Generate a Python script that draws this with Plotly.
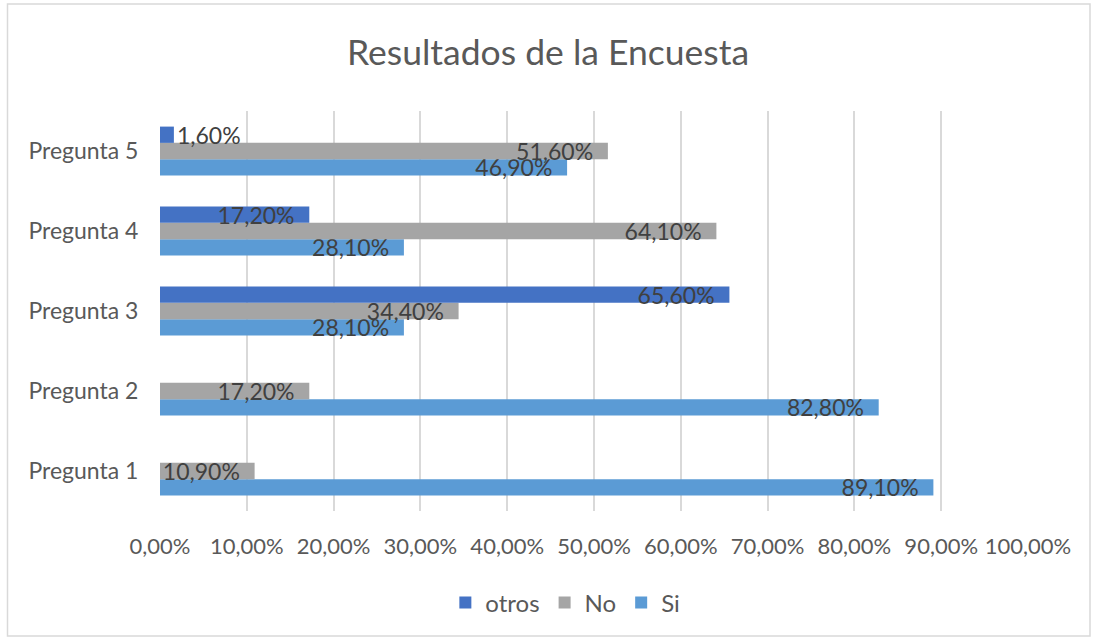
import plotly.graph_objects as go

categories = ["Pregunta 1", "Pregunta 2", "Pregunta 3", "Pregunta 4", "Pregunta 5"]
si = [0.891, 0.828, 0.281, 0.281, 0.469]
no = [0.109, 0.172, 0.344, 0.641, 0.516]
otros = [None, None, 0.656, 0.172, 0.016]

series = [("Si", si, "#5B9BD5"), ("No", no, "#A5A5A5"), ("otros", otros, "#4472C4")]

FONT = "Lato"
PAD = "\u00a0\u00a0"
LBL = 23

fig = go.Figure()
for name, vals, color in series:
    texts = []
    pos = []
    for v in vals:
        if v is None:
            texts.append("")
            pos.append("none")
        elif v < 0.05:
            texts.append(f"{v*100:.2f}%".replace(".", ","))
            pos.append("outside")
        else:
            texts.append(f"{v*100:.2f}%".replace(".", ",") + PAD)
            pos.append("inside")
    fig.add_trace(go.Bar(
        name=name, y=categories, x=vals, orientation="h",
        marker=dict(color=color, line=dict(width=0)),
        text=texts, textposition=pos, insidetextanchor="end",
        textangle=0, cliponaxis=False,
        textfont=dict(family=FONT, size=LBL, color="#404040"),
        insidetextfont=dict(family=FONT, size=LBL, color="#404040"),
        outsidetextfont=dict(family=FONT, size=LBL, color="#404040"),
    ))

fig.update_layout(
    width=1096, height=642,
    barmode="group", bargap=0.39, bargroupgap=0,
    separators=",.",
    paper_bgcolor="white", plot_bgcolor="white",
    margin=dict(l=160, r=68, t=111, b=131),
    font=dict(family=FONT, size=22, color="#595959"),
    title=dict(text="Resultados de la Encuesta", x=0.5, xanchor="center",
               y=1 - 53 / 642, yanchor="middle",
               font=dict(family=FONT, size=35.5, color="#595959")),
    uniformtext=dict(minsize=LBL, mode="show"),
    showlegend=True,
    legend=dict(orientation="h", traceorder="reversed", x=0.467, xanchor="center",
                y=-0.23, yanchor="middle", font=dict(family=FONT, size=24, color="#595959"),
                itemwidth=30, itemclick=False),
    xaxis=dict(range=[0, 1], dtick=0.1, tickformat=".2%", showgrid=True,
               gridcolor="#D9D9D9", gridwidth=1.5, zeroline=False, showline=False,
               ticks="outside", ticklen=16, tickcolor="rgba(0,0,0,0)",
               tickfont=dict(family=FONT, size=22, color="#595959")),
    yaxis=dict(showgrid=False, zeroline=False, showline=False,
               ticks="outside", ticklen=16, tickcolor="rgba(0,0,0,0)",
               tickfont=dict(family=FONT, size=23, color="#595959")),
    shapes=[dict(type="rect", xref="paper", yref="paper",
                 x0=-(160 - 7.5) / 868, x1=(1090 - 160) / 868,
                 y0=(511 - 636) / 400, y1=(511 - 4) / 400,
                 line=dict(color="#D9D9D9", width=1.5), fillcolor="rgba(0,0,0,0)",
                 layer="below")],
)

fig.write_html("out.html", config={"displayModeBar": False},
               post_script="document.body.style.margin='0';")
